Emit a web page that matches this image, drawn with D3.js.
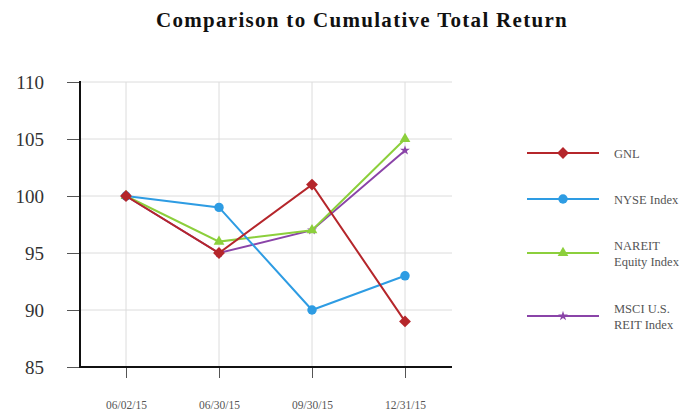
<!DOCTYPE html>
<html>
<head>
<meta charset="utf-8">
<script src="https://cdn.jsdelivr.net/npm/d3@7"></script>
<style>
  html, body { margin: 0; padding: 0; background: #fff; }
  svg { display: block; }
</style>
</head>
<body>
<svg id="chart" width="689" height="412"></svg>
<script>
// Cumulative total return, indexed to 100 at 06/02/15
const dates = ["06/02/15", "06/30/15", "09/30/15", "12/31/15"];
const gnl = [100, 95, 101, 89];
const nyse = [100, 99, 90, 93];
const nareit = [100, 96, 97, 105];
const msci = [100, 95, 97, 104];
const yTicks = [85, 90, 95, 100, 105, 110];

const series = [
  { name: ["GNL"], values: gnl, color: "#b5262b", symbol: d3.symbolSquare, size: 70, rotate: 45 },
  { name: ["NYSE Index"], values: nyse, color: "#2e9ce3", symbol: d3.symbolCircle, size: 70, rotate: 0 },
  { name: ["NAREIT", "Equity Index"], values: nareit, color: "#8ccf3c", symbol: d3.symbolTriangle, size: 50, rotate: 0 },
  { name: ["MSCI U.S.", "REIT Index"], values: msci, color: "#8a44a8", symbol: d3.symbolStar, size: 30, rotate: 0 }
];

const svg = d3.select("#chart");
const serif = "'Liberation Serif', 'DejaVu Serif', serif";

const plotLeft = 80, plotRight = 452, plotTop = 82, plotBottom = 367;

const x = d3.scalePoint().domain(dates).range([126, 405]);
const y = d3.scaleLinear().domain([85, 110]).range([plotBottom, plotTop]);

// Title
svg.append("text")
  .attr("x", 362).attr("y", 27)
  .attr("text-anchor", "middle")
  .attr("font-family", serif)
  .attr("font-weight", "bold")
  .attr("font-size", 21)
  .attr("letter-spacing", 1.3)
  .attr("fill", "#111")
  .text("Comparison to Cumulative Total Return");

// Grid
const grid = svg.append("g").attr("stroke", "#dcdcdc").attr("stroke-width", 1);
grid.selectAll("line.h").data(yTicks.filter(t => t > 85)).join("line")
  .attr("class", "h")
  .attr("x1", plotLeft).attr("x2", plotRight)
  .attr("y1", d => y(d)).attr("y2", d => y(d));
grid.selectAll("line.v").data(dates).join("line")
  .attr("class", "v")
  .attr("x1", d => x(d)).attr("x2", d => x(d))
  .attr("y1", plotTop).attr("y2", plotBottom);

// Y axis
const yAxis = svg.append("g")
  .attr("transform", `translate(${plotLeft},0)`)
  .call(d3.axisLeft(y).tickValues(yTicks).tickSize(13).tickPadding(23));
yAxis.select(".domain").remove();
yAxis.selectAll(".tick line").attr("stroke", "#555");
yAxis.selectAll(".tick text")
  .attr("font-family", serif).attr("font-size", 19).attr("fill", "#333");
svg.append("line")
  .attr("x1", plotLeft).attr("x2", plotLeft)
  .attr("y1", plotTop - 1).attr("y2", plotBottom + 1)
  .attr("stroke", "#111").attr("stroke-width", 2);

// X axis
const xAxis = svg.append("g")
  .attr("transform", `translate(0,${plotBottom})`)
  .call(d3.axisBottom(x).tickSize(11).tickPadding(23));
xAxis.select(".domain").remove();
xAxis.selectAll(".tick line").attr("stroke", "#555");
xAxis.selectAll(".tick text")
  .attr("font-family", serif).attr("font-size", 11.5).attr("fill", "#555");
svg.append("line")
  .attr("x1", plotLeft - 1).attr("x2", plotRight)
  .attr("y1", plotBottom).attr("y2", plotBottom)
  .attr("stroke", "#111").attr("stroke-width", 2);

// Lines and markers (GNL drawn last so it sits on top)
const line = d3.line().x((d, i) => x(dates[i])).y(d => y(d));
series.slice().reverse().forEach(s => {
  svg.append("path")
    .datum(s.values)
    .attr("d", line)
    .attr("fill", "none")
    .attr("stroke", s.color)
    .attr("stroke-width", 2);
  svg.append("g").selectAll("path").data(s.values).join("path")
    .attr("transform", (d, i) => `translate(${x(dates[i])},${y(d)}) rotate(${s.rotate})`)
    .attr("d", d3.symbol().type(s.symbol).size(s.size))
    .attr("fill", s.color);
});

// Legend
const legendY = [153, 199, 253, 316];
const legend = svg.append("g");
series.forEach((s, i) => {
  const g = legend.append("g").attr("transform", `translate(0,${legendY[i]})`);
  g.append("line").attr("x1", 527).attr("x2", 599)
    .attr("stroke", s.color).attr("stroke-width", 2);
  g.append("path").attr("transform", `translate(563,0) rotate(${s.rotate})`)
    .attr("d", d3.symbol().type(s.symbol).size(s.size))
    .attr("fill", s.color);
  const t = g.append("text")
    .attr("font-family", serif).attr("font-size", 12.5).attr("fill", "#555");
  const n = s.name.length;
  s.name.forEach((ln, j) => {
    t.append("tspan").attr("x", 614)
      .attr("y", (j - (n - 1) / 2) * 16 + 4.5)
      .text(ln);
  });
});
</script>
</body>
</html>
